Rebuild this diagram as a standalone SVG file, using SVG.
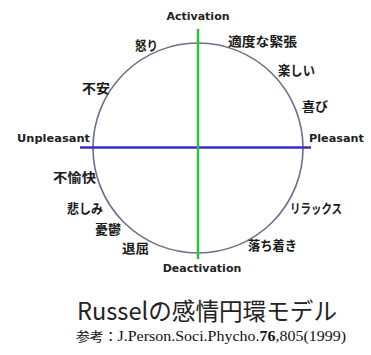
<svg xmlns="http://www.w3.org/2000/svg" width="371" height="355" viewBox="0 0 371 355">
<style>
.lbl{font-family:"Noto Sans CJK JP","Liberation Sans",sans-serif;font-weight:bold;font-size:13px;fill:#1a1a1a}
.ax{font-family:"DejaVu Sans","Liberation Sans",sans-serif;font-weight:bold;font-size:11px;fill:#222}
</style>
<rect width="371" height="355" fill="#fff"/>
<g id="connectors">
<circle id="circle" cx="198" cy="148" r="105" fill="none" stroke="#6b6f8c" stroke-width="1.6"/>
<line id="h-axis" x1="80" y1="147.5" x2="311" y2="147.5" stroke="#3a2ccc" stroke-width="2.5"/>
<line id="v-axis" x1="198" y1="29" x2="198" y2="259" stroke="#2ec03a" stroke-width="2.5"/>
</g>
<g id="activation"><text class="ax" x="198" y="20" text-anchor="middle">Activation</text></g>
<g id="deactivation"><text class="ax" x="202" y="272" text-anchor="middle">Deactivation</text></g>
<g id="unpleasant"><text class="ax" x="17" y="142" textLength="73" lengthAdjust="spacingAndGlyphs">Unpleasant</text></g>
<g id="pleasant"><text class="ax" x="309" y="142" textLength="55" lengthAdjust="spacingAndGlyphs">Pleasant</text></g>
<g id="n-ikari"><text class="lbl" x="135" y="50" textLength="23" lengthAdjust="spacingAndGlyphs">怒り</text></g>
<g id="n-tekido"><text class="lbl" x="228" y="46" textLength="69" lengthAdjust="spacingAndGlyphs">適度な緊張</text></g>
<g id="n-tanoshii"><text class="lbl" x="278" y="75" textLength="37" lengthAdjust="spacingAndGlyphs">楽しい</text></g>
<g id="n-fuan"><text class="lbl" x="82" y="93" textLength="28" lengthAdjust="spacingAndGlyphs">不安</text></g>
<g id="n-yorokobi"><text class="lbl" x="302" y="111" textLength="26" lengthAdjust="spacingAndGlyphs">喜び</text></g>
<g id="n-fuyukai"><text class="lbl" x="53" y="182" textLength="43" lengthAdjust="spacingAndGlyphs">不愉快</text></g>
<g id="n-kanashimi"><text class="lbl" x="67" y="213" textLength="36" lengthAdjust="spacingAndGlyphs">悲しみ</text></g>
<g id="n-yuutsu"><text class="lbl" x="95" y="234" textLength="26" lengthAdjust="spacingAndGlyphs">憂鬱</text></g>
<g id="n-taikutsu"><text class="lbl" x="122" y="253" textLength="27" lengthAdjust="spacingAndGlyphs">退屈</text></g>
<g id="n-relax"><text class="lbl" x="290" y="213" textLength="52" lengthAdjust="spacingAndGlyphs">リラックス</text></g>
<g id="n-ochitsuki"><text class="lbl" x="248" y="250" textLength="49" lengthAdjust="spacingAndGlyphs">落ち着き</text></g>
<g id="title"><text x="77" y="320" font-family="Noto Sans CJK JP,sans-serif" font-size="24" fill="#222" textLength="260" lengthAdjust="spacingAndGlyphs">Russelの感情円環モデル</text></g>
<g id="reference"><text x="76" y="341" font-family="Liberation Serif,Noto Sans CJK JP,serif" font-size="15" fill="#111" textLength="270" lengthAdjust="spacingAndGlyphs"><tspan font-family="Noto Sans CJK JP,sans-serif" font-size="13">参考：</tspan>J.Person.Soci.Phycho.<tspan font-weight="bold">76</tspan>,805(1999)</text></g>
</svg>
